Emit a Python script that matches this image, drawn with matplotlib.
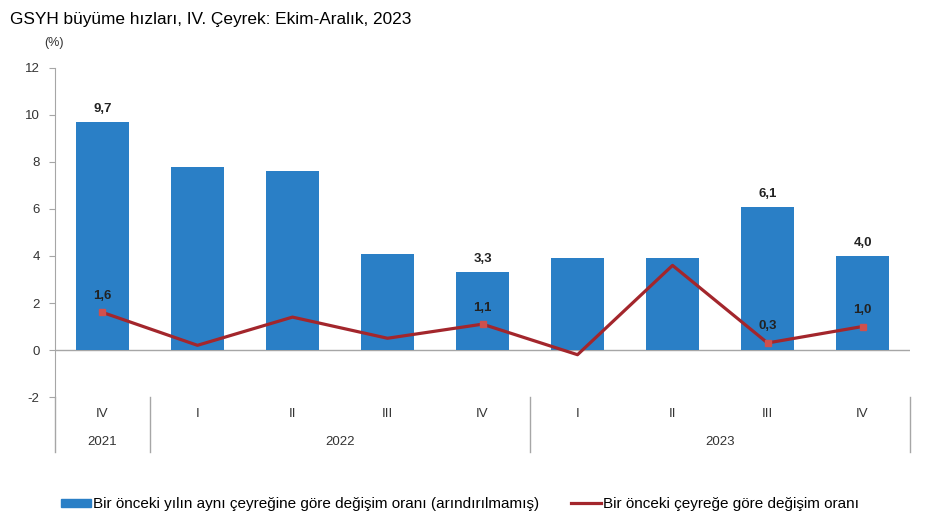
import matplotlib.pyplot as plt
from matplotlib.patches import Patch
from matplotlib.lines import Line2D
from matplotlib.transforms import blended_transform_factory

plt.rcParams['font.family'] = ['Liberation Sans', 'DejaVu Sans']
plt.rcParams['axes.unicode_minus'] = False

quarters = ['IV', 'I', 'II', 'III', 'IV', 'I', 'II', 'III', 'IV']
years = ['2021', '2022', '2023']
year_spans = [(0, 0), (1, 4), (5, 8)]
annual = [9.7, 7.8, 7.6, 4.1, 3.3, 3.9, 3.9, 6.1, 4.0]
quarterly = [1.6, 0.2, 1.4, 0.5, 1.1, -0.2, 3.6, 0.3, 1.0]
bar_labels = {0: '9,7', 4: '3,3', 7: '6,1', 8: '4,0'}
line_labels = {0: '1,6', 4: '1,1', 7: '0,3', 8: '1,0'}

bar_color = '#2A7FC6'
line_color = '#A3262C'
marker_color = '#D0504D'
grey = '#A6A6A6'

fig = plt.figure(figsize=(9.46, 5.29), dpi=100)
ax = fig.add_axes([0.0581, 0.2495, 0.9039, 0.622])

x = list(range(len(annual)))
ax.bar(x, annual, width=0.56, color=bar_color, zorder=2)
ax.plot(x, quarterly, color=line_color, lw=2.3, zorder=3)
mx = list(line_labels.keys())
ax.plot(mx, [quarterly[i] for i in mx], ls='none', marker='s', ms=5,
        color=marker_color, zorder=4)

for i, t in bar_labels.items():
    ax.text(i, annual[i] + 0.3, t, ha='center', va='bottom', fontsize=9.5,
            fontweight='bold', color='#222222')
for i, t in line_labels.items():
    ax.text(i, quarterly[i] + 0.45, t, ha='center', va='bottom', fontsize=9.5,
            fontweight='bold', color='#222222')

ax.set_xlim(-0.5, len(annual) - 0.5)
ax.set_ylim(-2, 12)
ax.set_yticks(range(-2, 13, 2))
ax.tick_params(axis='y', length=4, color=grey, labelsize=9.5, pad=7,
               labelcolor='#333333')
ax.set_xticks([])
ax.axhline(0, color=grey, lw=1, zorder=1)
for s in ['top', 'right', 'bottom']:
    ax.spines[s].set_visible(False)
ax.spines['left'].set_color(grey)

# category axis below the plot
tr = blended_transform_factory(ax.transData, ax.transAxes)
ax.plot([-0.5, -0.5], [0, -0.167], transform=tr, color=grey, lw=1, clip_on=False)
for a, b in year_spans:
    ax.plot([b + 0.5, b + 0.5], [0, -0.167], transform=tr, color=grey,
            lw=1, clip_on=False)
for i, q in enumerate(quarters):
    ax.text(i, -0.052, q, transform=tr, ha='center', va='center', fontsize=9.5,
            color='#333333')
for (a, b), yr in zip(year_spans, years):
    ax.text((a + b) / 2, -0.137, yr, transform=tr, ha='center', va='center',
            fontsize=9.5, color='#333333')

fig.text(0.011, 0.963, 'GSYH büyüme hızları, IV. Çeyrek: Ekim-Aralık, 2023',
         fontsize=12.4, color='black', va='center')
fig.text(0.047, 0.918, '(%)', fontsize=9, color='#333333', va='center')

handles = [Patch(color=bar_color), Line2D([0], [0], color=line_color, lw=2.3)]
fig.legend(handles, ['Bir önceki yılın aynı çeyreğine göre değişim oranı (arındırılmamış)',
                     'Bir önceki çeyreğe göre değişim oranı'],
           loc='center', bbox_to_anchor=(0.486, 0.047), ncol=2, frameon=False,
           fontsize=11, handlelength=2.0, handleheight=0.45, handletextpad=0.1,
           columnspacing=2.1)

fig.savefig('out.png', dpi=100)
